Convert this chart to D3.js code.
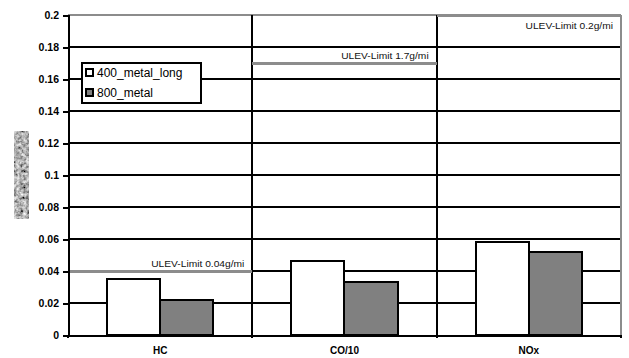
<!DOCTYPE html>
<html>
<head>
<meta charset="utf-8">
<script src="https://cdn.jsdelivr.net/npm/d3@7"></script>
<style>
  html, body { margin: 0; padding: 0; background: #fff; }
  svg { display: block; font-family: "Liberation Sans", Arial, sans-serif; }
  line, rect, path { shape-rendering: crispEdges; }
</style>
</head>
<body>
<svg id="chart" width="629" height="358"></svg>
<script>
// Emission results per pollutant, two catalyst variants
const categories = ["HC", "CO/10", "NOx"];
const seriesNames = ["400_metal_long", "800_metal"];
const series400 = [0.035, 0.046, 0.058];
const series800 = [0.022, 0.033, 0.052];
const seriesColors = ["#ffffff", "#808080"];

// ULEV limits (CO scaled by 1/10 like its bars)
const limitValues = [0.04, 0.17, 0.2];
const limitLabels = ["ULEV-Limit 0.04g/mi", "ULEV-Limit 1.7g/mi", "ULEV-Limit 0.2g/mi"];

const yTicks = [0, 0.02, 0.04, 0.06, 0.08, 0.1, 0.12, 0.14, 0.16, 0.18, 0.2];
const yTickLabels = ["0", "0.02", "0.04", "0.06", "0.08", "0.1", "0.12", "0.14", "0.16", "0.18", "0.2"];

const svg = d3.select("#chart");
const plotL = 68, plotR = 621, plotT = 15, plotB = 335;

const x = d3.scaleBand().domain(categories).range([plotL, plotR]).padding(0);
const x1 = d3.scaleBand().domain(seriesNames).range([0, x.bandwidth()]).paddingInner(0).paddingOuter(0.73);
const y = d3.scaleLinear().domain([0, 0.2]).range([plotB, plotT]);

// Y-axis title (rendered as a grainy grey strip)
const defs = svg.append("defs");
const f = defs.append("filter").attr("id", "grain").attr("x", 0).attr("y", 0).attr("width", 1).attr("height", 1);
f.append("feTurbulence").attr("type", "fractalNoise").attr("baseFrequency", 0.3).attr("numOctaves", 3).attr("seed", 11).attr("result", "noise");
f.append("feColorMatrix").attr("in", "noise").attr("type", "matrix")
  .attr("values", "0.9 0.9 0 0 -0.45  0.9 0.9 0 0 -0.45  0.9 0.9 0 0 -0.45  0 0 0 0 1")
  .attr("result", "grey");
f.append("feGaussianBlur").attr("in", "grey").attr("stdDeviation", 0.4).attr("result", "soft");
f.append("feComposite").attr("in", "soft").attr("in2", "SourceGraphic").attr("operator", "in");
svg.append("rect").attr("x", 14).attr("y", 131).attr("width", 15).attr("height", 88)
  .attr("fill", "#777").attr("filter", "url(#grain)");

// Horizontal gridlines
svg.append("g").selectAll("line")
  .data(yTicks.filter(v => v > 0 && v < 0.2))
  .join("line")
  .attr("x1", plotL).attr("x2", plotR)
  .attr("y1", d => y(d)).attr("y2", d => y(d))
  .attr("stroke", "#000").attr("stroke-width", 2);

// Top and right plot border
svg.append("line").attr("x1", plotL).attr("x2", plotR).attr("y1", y(0.2)).attr("y2", y(0.2))
  .attr("stroke", "#8c8c8c").attr("stroke-width", 2);
svg.append("line").attr("x1", plotR).attr("x2", plotR).attr("y1", y(0.2)).attr("y2", y(0))
  .attr("stroke", "#8c8c8c").attr("stroke-width", 2);

// Vertical separators between categories
svg.append("g").selectAll("line")
  .data(categories.slice(1))
  .join("line")
  .attr("x1", d => x(d)).attr("x2", d => x(d))
  .attr("y1", y(0.2)).attr("y2", y(0))
  .attr("stroke", "#000").attr("stroke-width", 2);

// Bars
const rows = categories.map((c, i) => ({ cat: c, values: [series400[i], series800[i]] }));
const groups = svg.append("g").selectAll("g")
  .data(rows).join("g")
  .attr("transform", d => `translate(${x(d.cat)},0)`);
groups.selectAll("rect")
  .data(d => d.values.map((v, j) => ({ name: seriesNames[j], v, j })))
  .join("rect")
  .attr("x", d => x1(d.name))
  .attr("width", x1.bandwidth())
  .attr("y", d => y(d.v))
  .attr("height", d => y(0) - y(d.v))
  .attr("fill", d => seriesColors[d.j])
  .attr("stroke", "#000").attr("stroke-width", 2);

// Limit lines with labels
const limits = categories.map((c, i) => ({ cat: c, v: limitValues[i], label: limitLabels[i] }));
const lg = svg.append("g");
lg.selectAll("line").data(limits).join("line")
  .attr("x1", d => x(d.cat)).attr("x2", d => x(d.cat) + x.bandwidth())
  .attr("y1", d => y(d.v)).attr("y2", d => y(d.v))
  .attr("stroke", "#8c8c8c").attr("stroke-width", 3);
lg.selectAll("text").data(limits).join("text")
  .attr("transform", d => {
    const ty = d.v >= 0.2 ? y(d.v) + 14 : y(d.v) - 4;
    return `translate(${x(d.cat) + x.bandwidth() - 8},${ty}) scale(1.1,1)`;
  })
  .attr("text-anchor", "end")
  .attr("font-size", 9.3)
  .attr("fill", "#111")
  .text(d => d.label);

// Y axis
const yAxis = svg.append("g").attr("transform", `translate(${plotL},0)`)
  .call(d3.axisLeft(y).tickValues(yTicks).tickSize(5).tickPadding(4)
    .tickFormat((d, i) => yTickLabels[i]));
yAxis.select(".domain").attr("stroke", "#000").attr("stroke-width", 2);
yAxis.selectAll(".tick line").attr("stroke", "#000").attr("stroke-width", 2);
yAxis.selectAll(".tick text")
  .attr("font-size", 10.5).attr("font-weight", "bold").attr("fill", "#000")
  .attr("font-family", "'Liberation Sans', Arial, sans-serif");

// X axis
const xAxis = svg.append("g").attr("transform", `translate(0,${plotB})`)
  .call(d3.axisBottom(x).tickSize(0).tickPadding(12));
xAxis.select(".domain").attr("stroke", "#000").attr("stroke-width", 2);
xAxis.selectAll(".tick text")
  .attr("font-size", 10).attr("font-weight", "bold").attr("fill", "#000")
  .attr("font-family", "'Liberation Sans', Arial, sans-serif");
// small ticks at category boundaries
svg.append("g").selectAll("line")
  .data(categories.concat(["_end"]))
  .join("line")
  .attr("x1", d => d === "_end" ? plotR : x(d)).attr("x2", d => d === "_end" ? plotR : x(d))
  .attr("y1", plotB).attr("y2", plotB + 3)
  .attr("stroke", "#000").attr("stroke-width", 2);

// Legend
const legend = svg.append("g").attr("transform", "translate(82,63)");
legend.append("rect").attr("width", 119).attr("height", 40)
  .attr("fill", "#fff").attr("stroke", "#000").attr("stroke-width", 1.5);
const items = legend.selectAll("g.item").data(seriesNames).join("g")
  .attr("class", "item")
  .attr("transform", (d, i) => `translate(4,${6 + i * 20})`);
items.append("rect").attr("width", 7).attr("height", 7)
  .attr("fill", (d, i) => seriesColors[i]).attr("stroke", "#000").attr("stroke-width", 1.5);
items.append("text").attr("x", 11).attr("y", 8)
  .attr("font-size", 12).attr("fill", "#000")
  .text(d => d);
</script>
</body>
</html>
